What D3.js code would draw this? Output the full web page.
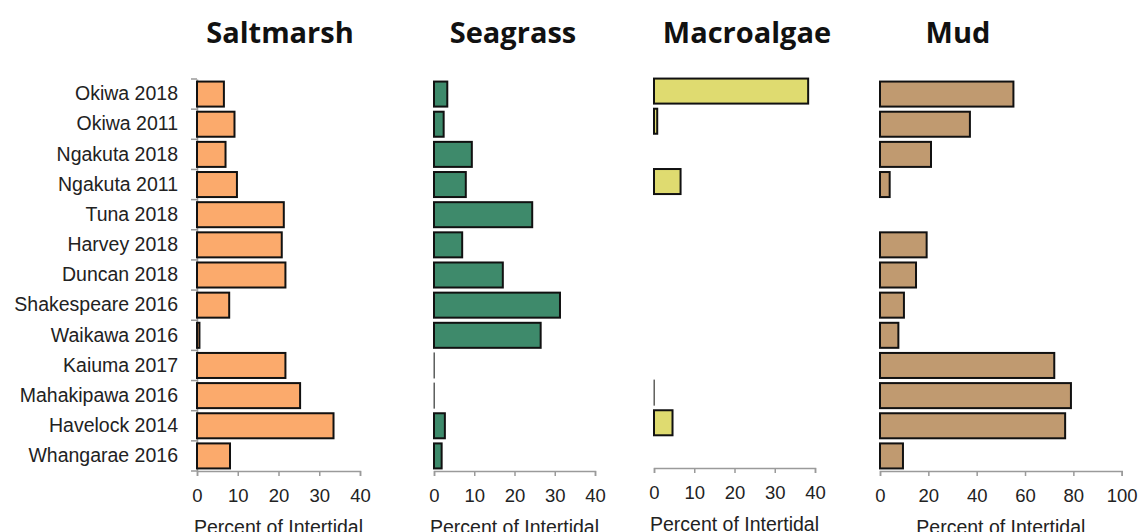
<!DOCTYPE html>
<html>
<head>
<meta charset="utf-8">
<script src="https://cdn.jsdelivr.net/npm/d3@7"></script>
<style>
  body { margin: 0; background: #fff; }
  text { font-family: "Liberation Sans", Arial, sans-serif; }
</style>
</head>
<body>
<div id="my_dataviz"></div>
<script>
// sites, top to bottom
var sites = ["Okiwa 2018", "Okiwa 2011", "Ngakuta 2018", "Ngakuta 2011", "Tuna 2018",
  "Harvey 2018", "Duncan 2018", "Shakespeare 2016", "Waikawa 2016", "Kaiuma 2017",
  "Mahakipawa 2016", "Havelock 2014", "Whangarae 2016"];

// percent of intertidal, null = no bar
var saltmarsh  = [6.6, 9.2, 7.0, 9.8, 21.3, 20.8, 21.7, 7.9, 0.6, 21.7, 25.3, 33.5, 8.1];
var seagrass   = [3.3, 2.4, 9.4, 7.9, 24.4, 7.0, 17.1, 31.3, 26.5, 0.1, 0.1, 2.7, 1.9];
var macroalgae = [38.3, 0.8, null, 6.6, null, null, null, null, null, null, 0.1, 4.6, null];
var mud        = [55.2, 37.2, 21.1, 4.0, null, 19.3, 14.9, 9.9, 7.6, 72.1, 79.0, 76.6, 9.5];

var ticks40  = [0, 10, 20, 30, 40];
var ticks100 = [0, 20, 40, 60, 80, 100];

var width = 1139, height = 532;

var svg = d3.select("#my_dataviz")
  .append("svg")
    .attr("width", width)
    .attr("height", height);

// panel layout
var panels = [
  {title: "Saltmarsh",  values: saltmarsh,  max: 40,  ticks: ticks40,  x0: 197, x1: 360,    dy: 0,  fill: "#fbaa6c", titleX: 280, yAxis: true},
  {title: "Seagrass",   values: seagrass,   max: 40,  ticks: ticks40,  x0: 434, x1: 595,    dy: 0,  fill: "#3e8a6b", titleX: 513},
  {title: "Macroalgae", values: macroalgae, max: 40,  ticks: ticks40,  x0: 654, x1: 815,    dy: -3, fill: "#dfdb70", titleX: 747},
  {title: "Mud",        values: mud,        max: 100, ticks: ticks100, x0: 880, x1: 1121.7, dy: 0,  fill: "#c09a70", titleX: 958}
];

var yTop = 79, yBottom = 471;

panels.forEach(function(p) {
  var g = svg.append("g").attr("transform", "translate(0," + p.dy + ")");

  var x = d3.scaleLinear()
    .domain([0, p.max])
    .range([p.x0, p.x1]);

  var y = d3.scaleBand()
    .domain(sites)
    .range([yTop, yBottom])
    .paddingInner(0.17)
    .paddingOuter(0.085);

  // title
  svg.append("text")
    .attr("x", p.titleX)
    .attr("y", 43)
    .attr("text-anchor", "middle")
    .style("font-family", "'Open Sans', sans-serif")
    .style("font-weight", 700)
    .style("font-size", "29px")
    .attr("fill", "#111")
    .text(p.title);

  // bottom axis
  var xAxis = g.append("g")
    .attr("transform", "translate(0," + yBottom + ")")
    .call(d3.axisBottom(x).tickValues(p.ticks).tickSize(5).tickSizeOuter(5).tickPadding(13));
  xAxis.select(".domain").attr("stroke", "#9a9a9a").attr("stroke-width", 1.5);
  xAxis.selectAll(".tick line").attr("stroke", "#9a9a9a").attr("stroke-width", 1.5);
  xAxis.selectAll(".tick text")
    .style("font-family", "'Liberation Sans', Arial, sans-serif")
    .style("font-size", "18.5px")
    .attr("fill", "#222");

  // axis title
  g.append("text")
    .attr("x", (p.x0 + p.x1) / 2)
    .attr("y", 534)
    .attr("text-anchor", "middle")
    .style("font-size", "19.5px")
    .attr("fill", "#222")
    .text("Percent of Intertidal");

  // left axis, only on the first panel
  if (p.yAxis) {
    var yAx = g.append("g")
      .attr("transform", "translate(" + p.x0 + ",0)")
      .call(d3.axisLeft(y).tickSize(0).tickPadding(19).tickSizeOuter(0));
    yAx.select(".domain").attr("stroke", "#9a9a9a").attr("stroke-width", 1.5);
    yAx.selectAll(".tick text")
      .style("font-family", "'Liberation Sans', Arial, sans-serif")
      .style("font-size", "19.5px")
      .attr("fill", "#222");
    // tick marks between categories
    var bounds = d3.range(sites.length + 1).map(function(i) { return yTop + i * (yBottom - yTop) / sites.length; });
    yAx.selectAll("line.sep")
      .data(bounds)
      .join("line")
      .attr("class", "sep")
      .attr("x1", -6).attr("x2", 0)
      .attr("y1", d => d).attr("y2", d => d)
      .attr("stroke", "#9a9a9a")
      .attr("stroke-width", 1.5);
  }

  // bars
  var data = sites.map(function(s, i) { return {site: s, v: p.values[i]}; })
    .filter(function(d) { return d.v != null; });

  g.append("g")
    .selectAll("rect")
    .data(data)
    .join("rect")
    .attr("x", x(0))
    .attr("y", d => y(d.site))
    .attr("width", d => x(d.v) - x(0))
    .attr("height", y.bandwidth())
    .attr("fill", p.fill)
    .attr("stroke", d => d.v < 0.5 ? "#555" : "#111")
    .attr("stroke-width", d => d.v < 0.5 ? 1 : 2);
});
</script>
</body>
</html>
